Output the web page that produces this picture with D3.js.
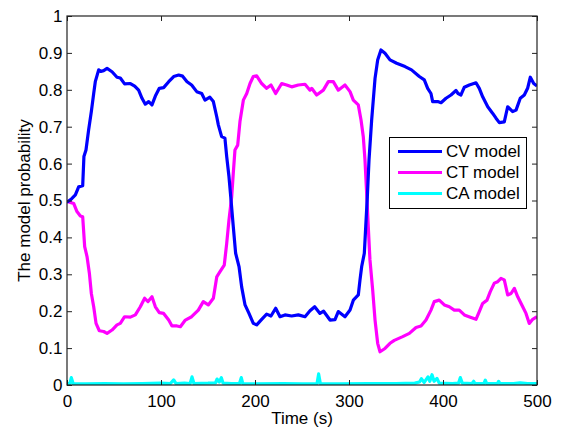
<!DOCTYPE html>
<html>
  <head>
    <meta charset="utf-8">
    <script src="https://d3js.org/d3.v7.min.js"></script>
    <style>
      body { margin: 0; background: #fff; }
      text { font-family: "Liberation Sans", Arial, sans-serif; font-size: 17px; fill: #000; }
    </style>
  </head>
<body>
<script type="text/javascript">

  // 曲线数据
  var cvTime = [0,1,5,8.9,12.4,16.7,18,20.2,23,25.9,28.4,30.1,33.7,36,39,42.6,47.9,53.2,56.7,61.3,67.4,72,76.2,79.8,83.3,86.9,90.4,94,98.2,102.8,108.2,113.5,118.8,123,127.7,132.6,138,143.3,146.8,152,155.7,159.3,161,164.5,168,169.9,172.3,174.5,176.9,179.4,183,185.8,189.4,193.6,198.2,201.8,207.1,212.4,217,222,226.6,231.9,239,246.1,253.2,258.5,263.5,269.1,273,279.8,285.1,288.6,295.7,301.1,304.6,309.9,311.7,313.5,316.3,317.8,319.5,321.3,324.1,327.7,330.5,334,338.3,343.6,350.7,359.6,366.5,374.8,380.1,383.7,387.2,389,394.4,397.9,403.2,408.5,413.8,416,419.1,422.7,428,435.1,438.6,442.2,447.6,452.9,456.4,459.9,465.2,468.8,474.1,477.7,482.2,486.5,490,492.9,496.5,500];
  var cvProb = [0.5,0.497,0.505,0.515,0.537,0.54,0.619,0.637,0.691,0.741,0.79,0.822,0.854,0.85,0.852,0.858,0.849,0.834,0.832,0.816,0.817,0.81,0.799,0.777,0.761,0.768,0.759,0.783,0.804,0.806,0.822,0.836,0.84,0.837,0.822,0.813,0.795,0.79,0.772,0.78,0.768,0.727,0.705,0.673,0.669,0.619,0.565,0.501,0.429,0.357,0.321,0.266,0.217,0.194,0.167,0.163,0.178,0.192,0.187,0.208,0.185,0.19,0.187,0.19,0.185,0.201,0.212,0.194,0.2,0.176,0.177,0.199,0.185,0.203,0.23,0.244,0.285,0.321,0.357,0.429,0.51,0.61,0.718,0.831,0.881,0.908,0.899,0.881,0.872,0.863,0.854,0.836,0.827,0.804,0.79,0.768,0.768,0.765,0.777,0.786,0.798,0.79,0.786,0.807,0.813,0.819,0.804,0.781,0.754,0.736,0.723,0.711,0.713,0.754,0.741,0.745,0.777,0.786,0.804,0.834,0.817,0.81];

  var ctTime = [0,1,7.1,10.6,14.2,16.7,18.8,21.3,23.8,25.9,28.4,30.9,34.4,39,42.6,47.9,53.2,56.7,61.3,67.4,72.7,78,82.6,86.2,90.4,94,98.2,102.8,108.2,111.7,117,120.6,125.9,132.6,139.7,145,150.3,155.7,159.3,162.8,167.3,169.9,172.3,175.2,176.9,178.7,181.6,184,187.6,191.2,194.7,198.2,201.8,207.1,212.4,217,222,228.4,233.6,239,246.1,253.2,258.5,260.3,265.6,272.7,278,283.3,288.6,295.7,301.1,304.6,309.9,312.8,315.2,317,318.8,320.5,322.3,325.2,327.7,330.5,333,338.3,343.6,348.2,357.1,364.2,371.3,376.6,381.9,387.2,390.7,396,401.4,406.7,412,417.3,422.7,429.8,435.1,438.6,442.2,446.8,450.3,454.6,458.2,461.7,465.2,468.8,472.4,475.9,479.5,484.8,488.3,491.8,495.4,500];
  var ctProb = [0.5,0.497,0.492,0.47,0.458,0.456,0.375,0.348,0.303,0.248,0.212,0.167,0.147,0.145,0.14,0.149,0.163,0.167,0.185,0.184,0.19,0.212,0.235,0.226,0.239,0.212,0.196,0.194,0.176,0.16,0.16,0.158,0.176,0.185,0.203,0.226,0.217,0.235,0.293,0.307,0.325,0.384,0.447,0.51,0.574,0.637,0.65,0.714,0.772,0.79,0.817,0.836,0.838,0.817,0.804,0.813,0.79,0.817,0.813,0.808,0.813,0.815,0.799,0.804,0.786,0.799,0.822,0.822,0.799,0.813,0.795,0.772,0.759,0.718,0.673,0.61,0.519,0.429,0.339,0.257,0.176,0.113,0.09,0.099,0.113,0.121,0.131,0.14,0.156,0.16,0.176,0.203,0.226,0.23,0.217,0.212,0.203,0.203,0.19,0.183,0.178,0.199,0.221,0.23,0.253,0.276,0.28,0.289,0.285,0.244,0.248,0.262,0.239,0.212,0.194,0.167,0.178,0.185];

  var caTime = [0,3,4.6,6.5,20,40,60,80,100,110,113.5,116,125,131,133,135,150,158,159.6,162,164.2,166,175,183.5,185.4,187,200,230,250,266,267.7,269.5,290,320,350,370,375,377,380,384,386,388.3,390.5,393.6,396,410,416.5,418.4,420.5,431,432.6,434,443.5,445,446.5,458,459.2,460.5,475,482,490,500];
  var caProb = [0.004,0.004,0.02,0.004,0.003,0.004,0.003,0.004,0.005,0.004,0.014,0.004,0.005,0.004,0.022,0.004,0.005,0.006,0.016,0.008,0.02,0.005,0.004,0.004,0.02,0.004,0.003,0.004,0.003,0.004,0.03,0.004,0.003,0.004,0.004,0.005,0.008,0.017,0.007,0.022,0.01,0.028,0.01,0.018,0.005,0.004,0.005,0.02,0.005,0.004,0.01,0.004,0.004,0.013,0.004,0.004,0.01,0.004,0.004,0.006,0.004,0.004];

  var xTicks = [0, 100, 200, 300, 400, 500];
  var yTicks = [0, 0.1, 0.2, 0.3, 0.4, 0.5, 0.6, 0.7, 0.8, 0.9, 1];
  var legendNames = ["CV model", "CT model", "CA model"];
  var lineColors = ["#0000ff", "#ff00ff", "#00ffff"];

  // 绘图区域
  var W = 561, H = 430;
  var pLeft = 67, pRight = 537, pTop = 16, pBottom = 385;

  var svg = d3.select("body")
    .append("svg")
      .attr("width", W)
      .attr("height", H);

  var x = d3.scaleLinear().domain([0, 500]).range([pLeft, pRight]);
  var y = d3.scaleLinear().domain([0, 1]).range([pBottom, pTop]);

  svg.append("clipPath")
      .attr("id", "clip")
    .append("rect")
      .attr("x", pLeft).attr("y", pTop)
      .attr("width", pRight - pLeft).attr("height", pBottom - pTop);

  // 三条曲线
  var series = [
    {t: cvTime, p: cvProb},
    {t: ctTime, p: ctProb},
    {t: caTime, p: caProb}
  ];

  var line = d3.line()
    .x(function(d) { return x(d[0]); })
    .y(function(d) { return y(d[1]); });

  // CA 先画在底层，然后 CT、CV
  [2, 1, 0].forEach(function(i) {
    var pts = series[i].t.map(function(t, k) { return [t, series[i].p[k]]; });
    svg.append("path")
      .datum(pts)
      .attr("clip-path", "url(#clip)")
      .attr("fill", "none")
      .attr("stroke", lineColors[i])
      .attr("stroke-width", 3.2)
      .attr("stroke-linejoin", "round")
      .attr("d", line);
  });

  // 坐标轴（MATLAB 风格，刻度朝内，四周边框）
  var axisColor = "#222";
  var tickLen = 5;

  svg.append("g")
      .attr("transform", "translate(0," + pBottom + ")")
      .call(d3.axisBottom(x).tickValues(xTicks).tickSizeInner(-tickLen).tickSizeOuter(0).tickPadding(10).tickFormat(d3.format("d")))
      .call(function(g) {
        g.select(".domain").remove();
        g.selectAll("line").attr("stroke", axisColor);
        g.selectAll("text").attr("font-size", 17).attr("font-family", null).attr("fill", "#000");
      });

  svg.append("g")
      .attr("transform", "translate(0," + pTop + ")")
      .call(d3.axisTop(x).tickValues(xTicks).tickSizeInner(-tickLen).tickSizeOuter(0).tickFormat(""))
      .call(function(g) {
        g.select(".domain").remove();
        g.selectAll("line").attr("stroke", axisColor);
      });

  svg.append("g")
      .attr("transform", "translate(" + pLeft + ",0)")
      .call(d3.axisLeft(y).tickValues(yTicks).tickSizeInner(-tickLen).tickSizeOuter(0).tickPadding(4.5).tickFormat(function(d) { return String(+d.toFixed(1)); }))
      .call(function(g) {
        g.select(".domain").remove();
        g.selectAll("line").attr("stroke", axisColor);
        g.selectAll("text").attr("font-size", 17).attr("font-family", null).attr("fill", "#000");
      });

  svg.append("g")
      .attr("transform", "translate(" + pRight + ",0)")
      .call(d3.axisRight(y).tickValues(yTicks).tickSizeInner(-tickLen).tickSizeOuter(0).tickFormat(""))
      .call(function(g) {
        g.select(".domain").remove();
        g.selectAll("line").attr("stroke", axisColor);
      });

  svg.append("rect")
      .attr("x", pLeft).attr("y", pTop)
      .attr("width", pRight - pLeft).attr("height", pBottom - pTop)
      .attr("fill", "none")
      .attr("stroke", axisColor)
      .attr("stroke-width", 1.2);

  // 轴标题
  svg.append("text")
      .attr("x", (pLeft + pRight) / 2)
      .attr("y", 424)
      .attr("text-anchor", "middle")
      .text("Time (s)");

  svg.append("text")
      .attr("transform", "translate(29.5," + ((pTop + pBottom) / 2) + ") rotate(-90)")
      .attr("text-anchor", "middle")
      .text("The model probability");

  // 图例
  var lg = svg.append("g");
  lg.append("rect")
      .attr("x", 389.5).attr("y", 137.5)
      .attr("width", 137).attr("height", 71)
      .attr("fill", "#fff")
      .attr("stroke", "#000")
      .attr("stroke-width", 1);

  legendNames.forEach(function(name, i) {
    var cy = 151.5 + i * 21;
    lg.append("line")
        .attr("x1", 398).attr("x2", 442)
        .attr("y1", cy).attr("y2", cy)
        .attr("stroke", lineColors[i])
        .attr("stroke-width", 3);
    lg.append("text")
        .attr("x", 446)
        .attr("y", cy)
        .attr("dy", "0.35em")
        .text(name);
  });

</script>
</body>
</html>
